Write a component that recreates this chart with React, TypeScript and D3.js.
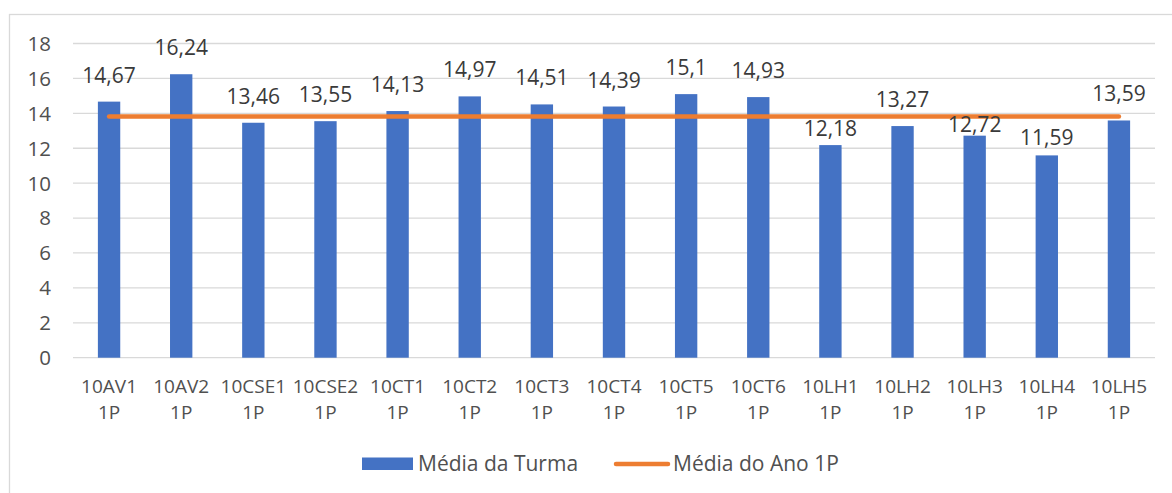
import React from "react";
import * as d3 from "d3";

// values
const categories = [
  "10AV1 1P", "10AV2 1P", "10CSE1 1P", "10CSE2 1P", "10CT1 1P",
  "10CT2 1P", "10CT3 1P", "10CT4 1P", "10CT5 1P", "10CT6 1P",
  "10LH1 1P", "10LH2 1P", "10LH3 1P", "10LH4 1P", "10LH5 1P",
];
const mediaTurma = [
  14.67, 16.24, 13.46, 13.55, 14.13, 14.97, 14.51, 14.39, 15.1, 14.93,
  12.18, 13.27, 12.72, 11.59, 13.59,
];
const mediaAno = [
  13.82, 13.82, 13.82, 13.82, 13.82, 13.82, 13.82, 13.82, 13.82, 13.82,
  13.82, 13.82, 13.82, 13.82, 13.82,
];
const yTicks = [0, 2, 4, 6, 8, 10, 12, 14, 16, 18];
const seriesNames = ["Média da Turma", "Média do Ano 1P"];

const BLUE = "#4472C4";
const ORANGE = "#ED7D31";
const GRID = "#d9d9d9";
const FONT = "'Open Sans', sans-serif";

// a few labels were dragged down in the original (pixels)
const labelNudge: Record<string, number> = {
  "10LH1 1P": 10,
  "10LH3 1P": 15,
  "10LH4 1P": 9,
};

const fmt = (v: number) => String(v).replace(".", ",");

export default function App() {
  const width = 1172;
  const height = 493;
  const plot = { left: 73, right: 1155, top: 43.5, bottom: 357.7 };

  const x = d3
    .scaleBand<string>()
    .domain(categories)
    .range([plot.left, plot.right])
    .paddingInner(0.69)
    .paddingOuter(0.345);

  const y = d3.scaleLinear().domain([0, 18]).range([plot.bottom, plot.top]);

  const cx = (c: string) => (x(c) ?? 0) + x.bandwidth() / 2;

  const line = d3
    .line<number>()
    .x((_, i) => cx(categories[i]))
    .y((d) => y(d));

  return (
    <svg
      width={width}
      height={height}
      style={{ position: "absolute", left: 0, top: 0, background: "#fff" }}
      fontFamily={FONT}
    >
      <rect x={9.5} y={14.5} width={1200} height={500} fill="#fff" stroke={GRID} strokeWidth={1.3} />

      {/* gridlines + y labels */}
      {yTicks.map((t) => (
        <g key={t}>
          <line x1={plot.left} x2={plot.right} y1={y(t)} y2={y(t)} stroke={GRID} strokeWidth={1.3} />
          <text x={51} y={y(t)} dy="0.36em" textAnchor="end" fontSize={20.5} fill="#505050">
            {t}
          </text>
        </g>
      ))}

      {/* bars */}
      {categories.map((c, i) => (
        <rect
          key={c}
          x={x(c)}
          y={y(mediaTurma[i])}
          width={x.bandwidth()}
          height={y(0) - y(mediaTurma[i])}
          fill={BLUE}
        />
      ))}

      {/* average line */}
      <path d={line(mediaAno) ?? ""} fill="none" stroke={ORANGE} strokeWidth={4.5} strokeLinecap="round" />

      {/* data labels */}
      {categories.map((c, i) => (
        <text
          key={c}
          x={cx(c)}
          y={y(mediaTurma[i]) - 19 + (labelNudge[c] || 0)}
          textAnchor="middle"
          fontSize={21}
          fill="#3a3a3a"
        >
          {fmt(mediaTurma[i])}
        </text>
      ))}

      {/* category labels */}
      {categories.map((c) => {
        const parts = c.split(" ");
        return (
          <text key={c} x={cx(c)} y={393} textAnchor="middle" fontSize={19} fill="#505050">
            <tspan x={cx(c)}>{parts[0]}</tspan>
            <tspan x={cx(c)} dy={26}>{parts[1]}</tspan>
          </text>
        );
      })}

      {/* legend */}
      <rect x={362} y={457.5} width={51} height={12.5} fill={BLUE} />
      <text x={418} y={471} fontSize={21} fill="#505050">{seriesNames[0]}</text>
      <line x1={616} x2={668} y1={464} y2={464} stroke={ORANGE} strokeWidth={4.5} strokeLinecap="round" />
      <text x={673} y={471} fontSize={21} fill="#505050">{seriesNames[1]}</text>
    </svg>
  );
}
